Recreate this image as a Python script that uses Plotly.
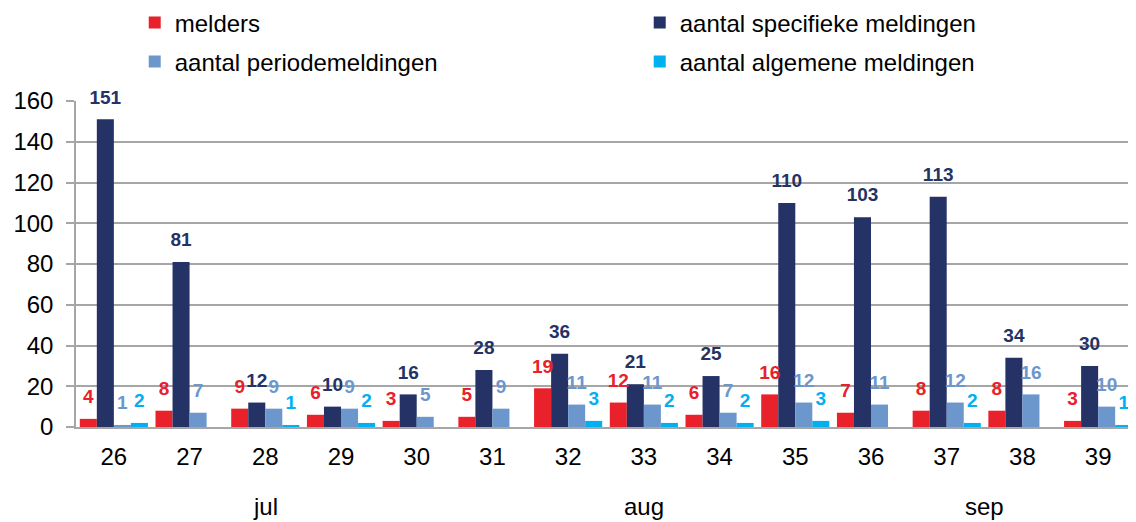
import plotly.graph_objects as go

weeks = ["26", "27", "28", "29", "30", "31", "32", "33", "34", "35", "36", "37", "38", "39"]
melders = [4, 8, 9, 6, 3, 5, 19, 12, 6, 16, 7, 8, 8, 3]
specifiek = [151, 81, 12, 10, 16, 28, 36, 21, 25, 110, 103, 113, 34, 30]
periode = [1, 7, 9, 9, 5, 9, 11, 11, 7, 12, 11, 12, 16, 10]
algemeen = [2, None, 1, 2, None, None, 3, 2, 2, 3, None, 2, None, 1]
months = ["jul", "aug", "sep"]
month_pos = [2, 7, 11.5]

series = [
    ("melders", melders, "#E8212B", "legend"),
    ("aantal specifieke meldingen", specifiek, "#243266", "legend"),
    ("aantal periodemeldingen", periode, "#6B97CD", "legend2"),
    ("aantal algemene meldingen", algemeen, "#00B0F0", "legend2"),
]

FONT = "Arial, Liberation Sans, sans-serif"
GRID = "#A6A6A6"

fig = go.Figure()
for name, vals, col, leg in series:
    fig.add_trace(go.Bar(x=weeks, y=vals, name=name, marker_color=col,
                         marker_line_width=0, legend=leg))
for name, vals, col, leg in series:
    fig.add_trace(go.Scatter(
        x=weeks, y=vals, mode="markers+text",
        text=[("" if v is None else str(v)) for v in vals],
        textposition="top center",
        textfont=dict(size=19, color=col, family=FONT, weight="bold"),
        marker=dict(size=16, opacity=0),
        showlegend=False, cliponaxis=False, hoverinfo="skip"))

for m, p in zip(months, month_pos):
    fig.add_annotation(x=p, y=-0.245, xref="x", yref="paper", text=m,
                       showarrow=False, yanchor="middle",
                       font=dict(size=24, color="black", family=FONT))

leg_common = dict(orientation="h", xanchor="left", yanchor="middle",
                  entrywidth=460, entrywidthmode="pixels",
                  bgcolor="rgba(0,0,0,0)",
                  font=dict(size=24, color="black", family=FONT))

fig.update_layout(
    width=1128, height=514,
    margin=dict(l=68, r=0, t=93, b=95, autoexpand=False),
    paper_bgcolor="white", plot_bgcolor="white",
    barmode="group", bargap=0.1, bargroupgap=0,
    scattermode="group", scattergap=0.1,
    font=dict(family=FONT, color="black"),
    legend=dict(x=0.0554, y=1.2393, **leg_common),
    legend2=dict(x=0.0554, y=1.1196, **leg_common),
    xaxis=dict(type="category", showgrid=False, showline=True, linecolor=GRID,
               linewidth=2, ticks="", tickfont=dict(size=24, family=FONT),
               ticklabelstandoff=7, fixedrange=True, automargin=False),
    yaxis=dict(range=[0, 160], dtick=20, showgrid=True, gridcolor=GRID,
               gridwidth=1.5, showline=True, linecolor=GRID, linewidth=1.5,
               ticks="outside", ticklen=8, tickcolor=GRID, tickwidth=1.5,
               zeroline=False, tickfont=dict(size=24, family=FONT),
               ticklabelstandoff=8, automargin=False),
)

fig.write_html("out.html")
